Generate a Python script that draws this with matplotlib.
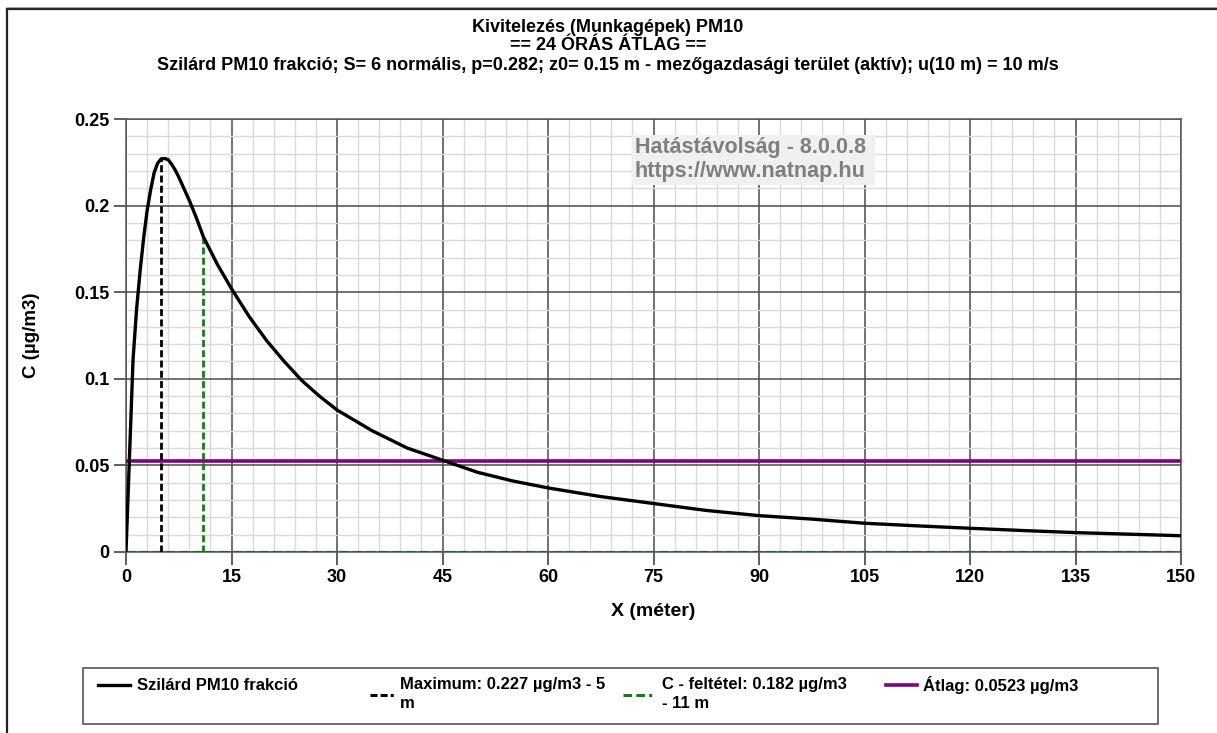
import matplotlib
matplotlib.use("Agg")
import matplotlib.pyplot as plt
from matplotlib.lines import Line2D
from matplotlib.patches import Rectangle
from matplotlib.ticker import MultipleLocator

plt.rcParams['font.family'] = ['Liberation Sans', 'DejaVu Sans']

# ---- data ----
x_m = [0, 1, 1.5, 2, 2.5, 3, 3.5, 4, 4.5, 5, 5.5, 6, 6.5, 7, 7.5, 8, 9, 10, 11,
       12, 13, 14, 15, 17.5, 20, 22.5, 25, 27.5, 30, 35, 40, 45, 50, 55, 60,
       67.5, 75, 82.5, 90, 97.5, 105, 112.5, 120, 127.5, 135, 142.5, 150]
c_pm10 = [0, 0.111, 0.140, 0.162, 0.181, 0.197, 0.209, 0.219, 0.2245, 0.227,
          0.2272, 0.2265, 0.2238, 0.2205, 0.2165, 0.212, 0.203, 0.193, 0.182,
          0.174, 0.166, 0.159, 0.152, 0.136, 0.122, 0.110, 0.099, 0.090, 0.082,
          0.070, 0.060, 0.053, 0.046, 0.041, 0.037, 0.032, 0.028, 0.024, 0.021,
          0.019, 0.0166, 0.0151, 0.0137, 0.0124, 0.0112, 0.0103, 0.0094]
max_x, max_c = 5, 0.227
cond_x, cond_c = 11, 0.182
avg_c = 0.0523
x_ticks = [0, 15, 30, 45, 60, 75, 90, 105, 120, 135, 150]
y_ticks = [0, 0.05, 0.1, 0.15, 0.2, 0.25]
y_tick_labels = ['0', '0.05', '0.1', '0.15', '0.2', '0.25']

title_lines = ["Kivitelezés (Munkagépek) PM10",
               "== 24 ÓRÁS ÁTLAG ==",
               "Szilárd PM10 frakció; S= 6 normális, p=0.282; z0= 0.15 m - mezőgazdasági terület (aktív); u(10 m) = 10 m/s"]
legend_labels = ["Szilárd PM10 frakció",
                 "Maximum: 0.227 µg/m3 - 5\nm",
                 "C - feltétel: 0.182 µg/m3\n- 11 m",
                 "Átlag: 0.0523 µg/m3"]

W, H = 1217, 733
fig = plt.figure(figsize=(W / 100, H / 100), dpi=100)
fig.patch.set_facecolor('white')

def fx(px):
    return px / W

def fy(py):
    return 1 - py / H

# outer frame (left & top visible)
fig.add_artist(Line2D([fx(7), fx(7)], [fy(9), 0], color='#222222', lw=1.6))
fig.add_artist(Line2D([fx(7), 1], [fy(9), fy(9)], color='#222222', lw=1.6))
fig.add_artist(Line2D([fx(7), 1], [fy(6.5), fy(6.5)], color='#aaaaaa', lw=0.8))

L, R, T, B = 126, 1181, 119, 552
ax = fig.add_axes([fx(L), fy(B), fx(R - L), (B - T) / H])

ax.set_xlim(0, 150)
ax.set_ylim(0, 0.25)
ax.xaxis.set_minor_locator(MultipleLocator(3))
ax.yaxis.set_minor_locator(MultipleLocator(0.01))
ax.set_xticks(x_ticks)
ax.set_yticks(y_ticks)
ax.set_yticklabels(y_tick_labels)
ax.grid(which='minor', color='#dadada', lw=1.0)
ax.grid(which='major', color='#4a4a4a', lw=1.1)
ax.set_axisbelow(True)
ax.tick_params(which='minor', length=0)
ax.tick_params(which='major', length=9, width=1.1, color='#333333',
               labelsize=13, pad=3)
for lab in ax.get_xticklabels() + ax.get_yticklabels():
    lab.set_fontweight('bold')
for s in ax.spines.values():
    s.set_color('#555555')
    s.set_linewidth(1.1)

ax.axhline(avg_c, color='#800080', lw=2.6, zorder=3)
ax.plot([0, 150], [0, 0], color='#1a6b1a', lw=1.6, ls=(0, (4, 2)), zorder=3)
ax.plot([max_x, max_x], [0, max_c], color='black', lw=2.0, ls=(0, (2.5, 1.2)), zorder=4)
ax.plot([cond_x, cond_x], [0, cond_c], color='#1a7a1a', lw=2.0, ls=(0, (2.5, 1.2)), zorder=4)
ax.plot(x_m, c_pm10, color='black', lw=2.4, zorder=5, solid_joinstyle='round')

ax.set_xlabel("X (méter)", fontsize=14, fontweight='bold', va='center')
ax.xaxis.set_label_coords(0.5, (B - 612) / (B - T))
ax.set_ylabel("C (µg/m3)", fontsize=13.5, fontweight='bold', va='center')
ax.yaxis.set_label_coords((32 - L) / (R - L), 0.5)

ax.text((635 - L) / (R - L), (B - 148) / (B - T), "Hatástávolság - 8.0.0.8",
        transform=ax.transAxes, fontsize=15.5, fontweight='bold', color='#7f7f7f',
        va='center', ha='left', zorder=7)
ax.text((635 - L) / (R - L), (B - 172) / (B - T), "https://www.natnap.hu",
        transform=ax.transAxes, fontsize=15.5, fontweight='bold', color='#7f7f7f',
        va='center', ha='left', zorder=7)
ax.add_patch(Rectangle(((632 - L) / (R - L), (B - 185) / (B - T)),
                       (875 - 632) / (R - L), (185 - 135) / (B - T),
                       transform=ax.transAxes, fc='#f0f0f0', ec='none', zorder=6))

for t, yy in zip(title_lines, [27, 46, 66]):
    fig.text(fx(608), fy(yy), t, ha='center', va='center', fontsize=13,
             fontweight='bold')

# legend box
fig.add_artist(Rectangle((fx(83), fy(724)), fx(1158 - 83), (724 - 668) / H,
                         fill=False, ec='#555555', lw=1.2))
ly1 = fy(685)
ly2 = fy(703)
hs = (0, (2.3, 1.0, 2.3, 1.0, 1.0, 5))
fig.add_artist(Line2D([fx(98), fx(130)], [ly1, ly1], color='black', lw=2.4))
fig.text(fx(137), ly1, legend_labels[0], fontsize=12, fontweight='bold',
         va='center', ha='left')
dash_y = fy(695)
fig.add_artist(Line2D([fx(370), fx(394)], [dash_y, dash_y], color='black', lw=2.2,
                      ls=hs))
l1, l2 = legend_labels[1].split("\n")
fig.text(fx(400), ly1, l1, fontsize=12, fontweight='bold', va='center', ha='left')
fig.text(fx(400), ly2, l2, fontsize=12, fontweight='bold', va='center', ha='left')
fig.add_artist(Line2D([fx(623), fx(657)], [dash_y, dash_y], color='#1a7a1a', lw=2.2,
                      ls=(0, (2.8, 1.4, 2.8, 1.4, 1.0, 5))))
l1, l2 = legend_labels[2].split("\n")
fig.text(fx(662), ly1, l1, fontsize=12, fontweight='bold', va='center', ha='left')
fig.text(fx(662), ly2, l2, fontsize=12, fontweight='bold', va='center', ha='left')
fig.add_artist(Line2D([fx(886), fx(917)], [ly1, ly1], color='#800080', lw=2.6))
fig.text(fx(923), ly1, legend_labels[3], fontsize=12, fontweight='bold',
         va='center', ha='left')

fig.savefig("out.png", dpi=100, facecolor='white')
